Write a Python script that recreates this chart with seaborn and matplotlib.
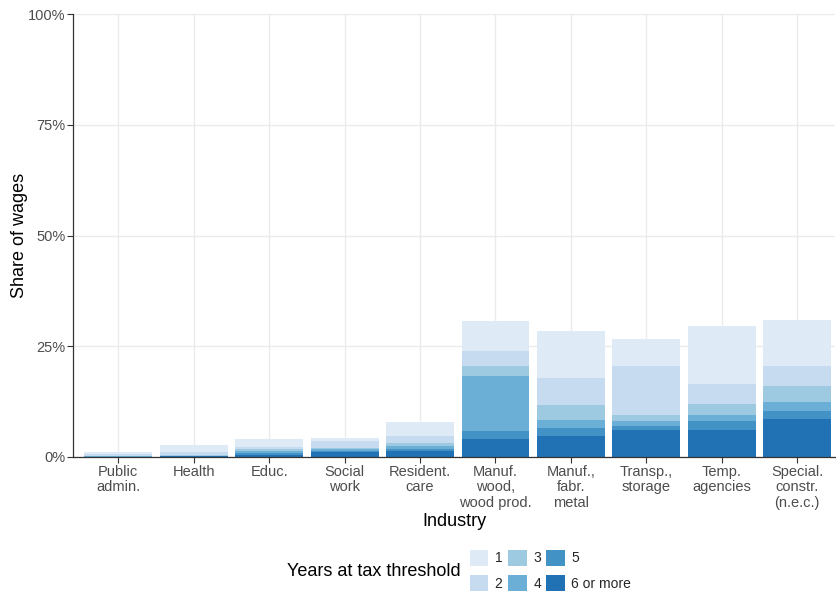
import matplotlib
matplotlib.use("Agg")
import matplotlib.pyplot as plt
from matplotlib.patches import Patch
from matplotlib.ticker import PercentFormatter
import seaborn as sns
import pandas as pd

industries = [
    "Public\nadmin.", "Health", "Educ.", "Social\nwork", "Resident.\ncare",
    "Manuf.\nwood,\nwood prod.", "Manuf.,\nfabr.\nmetal", "Transp.,\nstorage",
    "Temp.\nagencies", "Special.\nconstr.\n(n.e.c.)",
]
years = ["1", "2", "3", "4", "5", "6 or more"]

# Share of wages (%) by years at the tax threshold
share_1 = [0.5, 1.6, 1.8, 0.9, 3.2, 6.8, 10.6, 6.1, 13.1, 10.4]
share_2 = [0.4, 0.7, 0.5, 1.4, 1.5, 3.4, 6.1, 11.0, 4.5, 4.5]
share_3 = [0.05, 0.1, 0.4, 0.4, 0.7, 2.2, 3.3, 1.4, 2.5, 3.6]
share_4 = [0.05, 0.05, 0.5, 0.3, 0.7, 12.4, 1.9, 1.1, 1.4, 2.0]
share_5 = [0.05, 0.05, 0.4, 0.3, 0.4, 1.8, 1.8, 0.9, 2.0, 1.8]
share_6 = [0.05, 0.15, 0.5, 1.1, 1.4, 4.1, 4.7, 6.1, 6.1, 8.6]

palette = ["#deebf7", "#c6dbef", "#9ecae1", "#6baed6", "#4292c6", "#2171b5"]

rows = []
for yr, vals in zip(years, [share_1, share_2, share_3, share_4, share_5, share_6]):
    for i, v in enumerate(vals):
        rows.append({"pos": i, "years": yr, "share": v / 100})
df = pd.DataFrame(rows)

sns.set_theme(style="white")
plt.rcParams["font.family"] = ["Liberation Sans", "DejaVu Sans"]

fig = plt.figure(figsize=(8.37, 5.94), dpi=100)
ax = fig.add_axes([73 / 837, 137 / 594, 762 / 837, 443 / 594])

# grid first so bars sit on top
ax.set_axisbelow(True)
ax.grid(True, color="#ebebeb", linewidth=1.0)

sns.histplot(
    data=df, x="pos", weights="share", hue="years", hue_order=years,
    palette=palette, multiple="stack", discrete=True, shrink=0.9,
    alpha=1, linewidth=0, legend=False, ax=ax,
)

ax.set_xlim(-0.6, 9.5)
ax.set_ylim(0, 1)
ax.set_xticks(range(len(industries)))
ax.set_xticklabels(industries, fontsize=10.5, color="#4d4d4d", linespacing=1.1)
ax.set_yticks([0, 0.25, 0.5, 0.75, 1.0])
ax.yaxis.set_major_formatter(PercentFormatter(1.0, decimals=0))
ax.tick_params(axis="y", labelsize=10.5, labelcolor="#4d4d4d", pad=1.5)
ax.tick_params(axis="x", pad=2)
ax.tick_params(axis="both", which="major", length=4, width=0.8, color="#333333",
               direction="out", left=True, bottom=True)

for s in ["top", "right"]:
    ax.spines[s].set_visible(False)
for s in ["left", "bottom"]:
    ax.spines[s].set_color("#333333")
    ax.spines[s].set_linewidth(0.9)

ax.set_xlabel("Industry", fontsize=13, color="black", labelpad=2.5)
ax.set_ylabel("Share of wages", fontsize=13, color="black", labelpad=0)

handles = [Patch(facecolor=c, edgecolor="none") for c in palette]
fig.legend(
    handles, years, ncol=3, loc="upper left",
    bbox_to_anchor=(460 / 837, 1 - 540 / 594), frameon=False,
    fontsize=10, handlelength=1.35, handleheight=1.4, handletextpad=0.45,
    columnspacing=0.4, labelspacing=0.68, borderpad=0.2,
)
fig.text(287 / 837, 1 - 572 / 594, "Years at tax threshold", fontsize=13,
         va="center", ha="left", color="black")

fig.savefig("out.png", dpi=100)
